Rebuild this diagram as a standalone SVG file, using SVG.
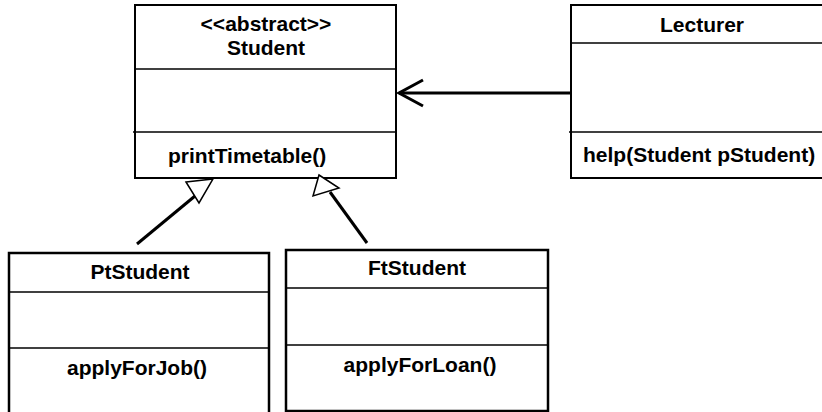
<svg xmlns="http://www.w3.org/2000/svg" width="822" height="412" viewBox="0 0 822 412">
<style>
.box{fill:#fff;stroke:#000;stroke-width:2}
.thick{stroke-width:2.5}
.div{stroke:#000;stroke-width:1.5;fill:none}
.t{font-family:"Liberation Sans",Arial,sans-serif;font-weight:bold;font-size:21px;fill:#000}
.c{text-anchor:middle}
.conn{stroke:#000;stroke-width:3;fill:none}
.tri{fill:#fff;stroke:#000;stroke-width:1.5;stroke-linejoin:miter}
</style>
<rect width="822" height="412" fill="#fff"/>
<g id="Student">
<rect class="box" x="135" y="5" width="261" height="173"/>
<line class="div" x1="135" y1="69" x2="396" y2="69"/>
<line class="div" x1="133" y1="132" x2="396" y2="132"/>
<text class="t c" x="266" y="31">&lt;&lt;abstract&gt;&gt;</text>
<text class="t c" x="266" y="55">Student</text>
<text class="t" x="168" y="163">printTimetable()</text>
</g>
<g id="Lecturer">
<rect class="box" x="571" y="5" width="262" height="173"/>
<line class="div" x1="571" y1="43" x2="833" y2="43"/>
<line class="div" x1="569" y1="132" x2="833" y2="132"/>
<text class="t c" x="702" y="32">Lecturer</text>
<text class="t" x="583" y="162">help(Student pStudent)</text>
</g>
<g id="PtStudent">
<rect class="box thick" x="9" y="253" width="260" height="170"/>
<line class="div" x1="9" y1="292" x2="269" y2="292"/>
<line class="div" x1="9" y1="348" x2="268" y2="348"/>
<text class="t c" x="140" y="279">PtStudent</text>
<text class="t c" x="137" y="375">applyForJob()</text>
</g>
<g id="FtStudent">
<rect class="box thick" x="286" y="250" width="262" height="161"/>
<line class="div" x1="286" y1="288" x2="548" y2="288"/>
<line class="div" x1="286" y1="345" x2="547" y2="345"/>
<text class="t c" x="417" y="275">FtStudent</text>
<text class="t c" x="420" y="372">applyForLoan()</text>
</g>
<g id="connectors">
<line class="conn" x1="571" y1="93" x2="399" y2="93"/>
<polyline class="conn" points="423,80 399,93 423,106"/>
<line class="conn" x1="137" y1="244" x2="195" y2="196"/>
<polygon class="tri" points="186,182 213,179 199,203"/>
<line class="conn" x1="367" y1="243" x2="330" y2="192"/>
<polygon class="tri" points="319,175 339,188 313,196"/>
</g>
</svg>
